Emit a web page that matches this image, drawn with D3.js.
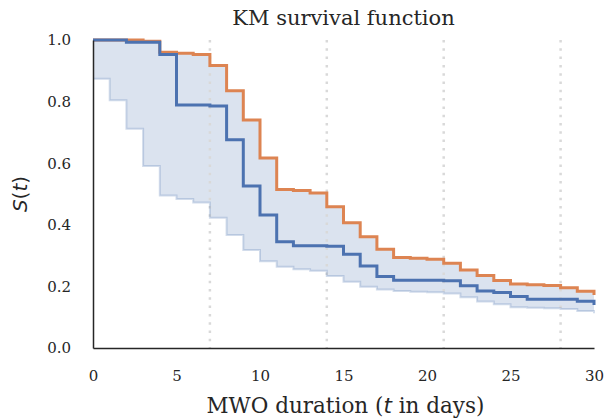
<!DOCTYPE html>
<html>
<head>
<meta charset="utf-8">
<script src="https://cdn.jsdelivr.net/npm/d3@7"></script>
<style>
  html, body { margin: 0; padding: 0; background: #fff; }
  svg { display: block; }
</style>
</head>
<body>
<svg id="chart" width="605" height="419"></svg>
<script>
// ---- data ----
const days = [0,1,2,3,4,5,6,7,8,9,10,11,12,13,14,15,16,17,18,19,20,21,22,23,24,25,26,27,28,29,30];
const kmEstimate = [1.0,1.0,0.993,0.993,0.953,0.789,0.789,0.786,0.676,0.526,0.432,0.345,0.332,0.332,0.330,0.304,0.266,0.232,0.220,0.220,0.220,0.218,0.202,0.185,0.180,0.167,0.158,0.158,0.158,0.152,0.140];
const upperCurve = [1.0,1.0,1.0,0.996,0.960,0.957,0.953,0.917,0.835,0.740,0.617,0.515,0.511,0.503,0.459,0.407,0.361,0.321,0.294,0.291,0.288,0.275,0.253,0.235,0.219,0.208,0.205,0.203,0.196,0.184,0.172];
const lowerBound = [0.874,0.804,0.712,0.591,0.495,0.484,0.472,0.423,0.367,0.318,0.282,0.264,0.256,0.251,0.234,0.215,0.199,0.190,0.185,0.183,0.181,0.177,0.165,0.151,0.142,0.132,0.131,0.129,0.127,0.120,0.113];
const weekMarks = [7,14,21,28];
const xTicks = [0,5,10,15,20,25,30];
const yTicks = [0.0,0.2,0.4,0.6,0.8,1.0];
const titleText = "KM survival function";

// ---- layout ----
const svg = d3.select("#chart");
const margin = {left: 93, right: 11, top: 40, bottom: 71};
const W = 605, H = 419;
const x = d3.scaleLinear().domain([0, 30]).range([margin.left, W - margin.right]);
const y = d3.scaleLinear().domain([0, 1]).range([H - margin.bottom, margin.top]);

const rows = days.map((d, i) => ({t: d, km: kmEstimate[i], up: upperCurve[i], lo: lowerBound[i]}));

const serif = "'DejaVu Serif', serif";
const sans = "'DejaVu Sans', sans-serif";

// band
svg.append("path")
  .datum(rows)
  .attr("d", d3.area().curve(d3.curveStepAfter).x(d => x(d.t)).y0(d => y(d.lo)).y1(d => y(d.up)))
  .attr("fill", "#4c72b0").attr("fill-opacity", 0.2);

// week markers
svg.append("g").selectAll("line").data(weekMarks).join("line")
  .attr("x1", d => x(d)).attr("x2", d => x(d))
  .attr("y1", y(1)).attr("y2", y(0))
  .attr("stroke", "#d9d9d9").attr("stroke-width", 2.5)
  .attr("stroke-dasharray", "2.5,5.8");

// lower bound line
svg.append("path").datum(rows)
  .attr("d", d3.line().curve(d3.curveStepAfter).x(d => x(d.t)).y(d => y(d.lo)))
  .attr("fill", "none").attr("stroke", "#4c72b0").attr("stroke-opacity", 0.25).attr("stroke-width", 2);

// upper curve (orange)
svg.append("path").datum(rows)
  .attr("d", d3.line().curve(d3.curveStepAfter).x(d => x(d.t)).y(d => y(d.up)))
  .attr("fill", "none").attr("stroke", "#dd8452").attr("stroke-width", 3);

// KM estimate (blue)
svg.append("path").datum(rows)
  .attr("d", d3.line().curve(d3.curveStepAfter).x(d => x(d.t)).y(d => y(d.km)))
  .attr("fill", "none").attr("stroke", "#4c72b0").attr("stroke-width", 3);

// axes
const xAxis = svg.append("g").attr("transform", `translate(0,${y(0)})`)
  .call(d3.axisBottom(x).tickValues(xTicks).tickSize(0).tickPadding(22).tickFormat(d3.format("d")));
const yAxis = svg.append("g").attr("transform", `translate(${x(0)},0)`)
  .call(d3.axisLeft(y).tickValues(yTicks).tickSize(0).tickPadding(22).tickFormat(d3.format(".1f")));
[xAxis, yAxis].forEach(g => {
  g.select(".domain").attr("stroke", "#262626").attr("stroke-width", 1.5);
  g.selectAll("text").attr("font-family", serif).attr("font-size", 15).attr("fill", "#262626");
});

// title
svg.append("text").attr("x", (x(0) + x(30)) / 2).attr("y", 25)
  .attr("text-anchor", "middle").attr("font-family", serif).attr("font-size", 21).attr("fill", "#262626")
  .text(titleText);

// x label
const xl = svg.append("text").attr("x", (x(0) + x(30)) / 2 + 2).attr("y", 413)
  .attr("text-anchor", "middle").attr("font-family", serif).attr("font-size", 21.5).attr("fill", "#262626");
xl.append("tspan").text("MWO duration (");
xl.append("tspan").attr("font-family", sans).attr("font-style", "italic").text("t");
xl.append("tspan").text(" in days)");

// y label
const yl = svg.append("text").attr("transform", `translate(27,${(y(0) + y(1)) / 2}) rotate(-90)`)
  .attr("text-anchor", "middle").attr("font-family", sans).attr("font-size", 20).attr("fill", "#262626");
yl.append("tspan").attr("font-style", "italic").text("S");
yl.append("tspan").text("(");
yl.append("tspan").attr("font-style", "italic").text("t");
yl.append("tspan").text(")");
</script>
</body>
</html>
